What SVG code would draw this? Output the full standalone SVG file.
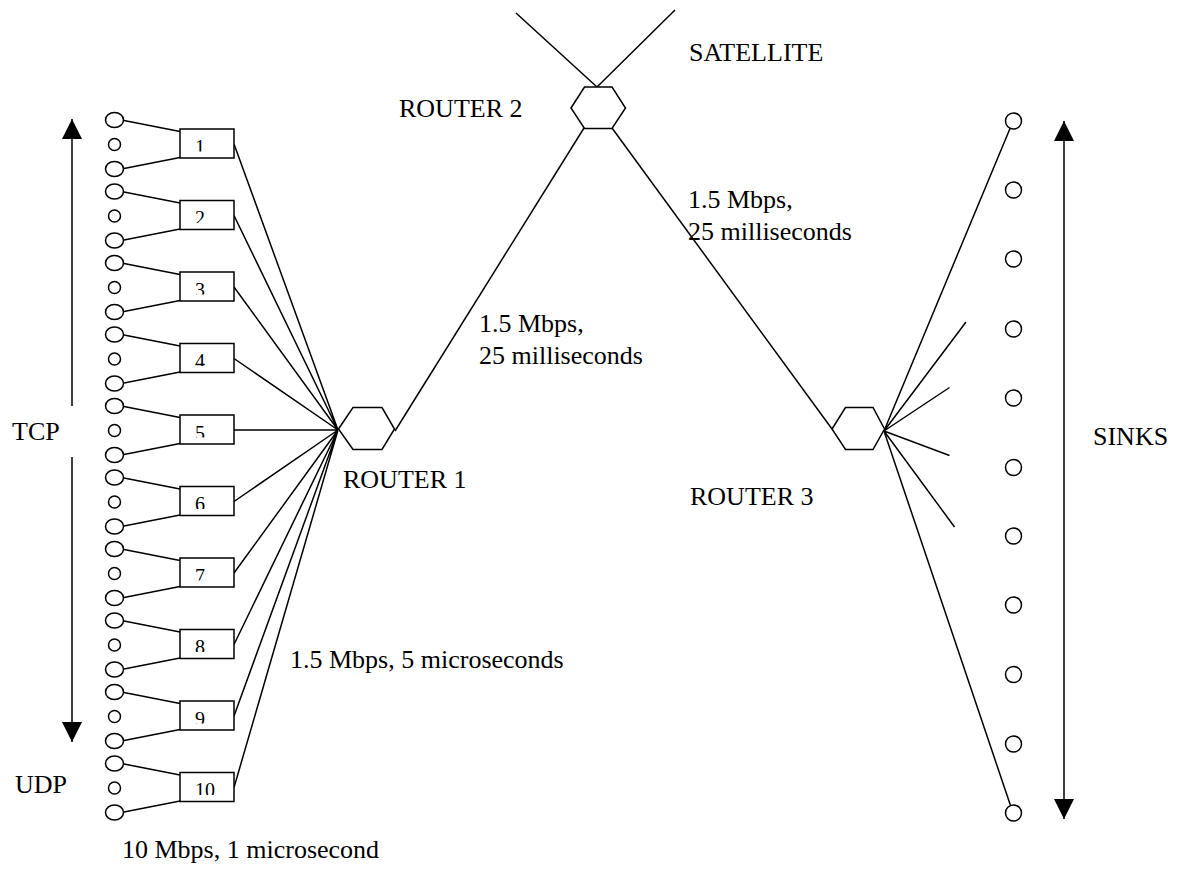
<svg xmlns="http://www.w3.org/2000/svg" width="1186" height="873" viewBox="0 0 1186 873">
<style>
.ln{stroke:#000;stroke-width:1.5;fill:none}
.nd{stroke:#000;stroke-width:1.5;fill:#fff}
.t{font-family:"Liberation Serif","Times New Roman",serif;font-size:26px;fill:#000}
.n{font-family:"Liberation Serif","Times New Roman",serif;font-size:20px;fill:#000}
</style>
<defs>
<marker id="ah" viewBox="0 0 20 20" refX="20" refY="10" markerWidth="20" markerHeight="20" markerUnits="userSpaceOnUse" orient="auto-start-reverse"><path d="M0,0 L20,10 L0,20 z" fill="#000"/></marker>
<clipPath id="c1"><rect x="180" y="129" width="54" height="22.5"/></clipPath>
<clipPath id="c2"><rect x="180" y="200.5" width="54" height="22.5"/></clipPath>
<clipPath id="c3"><rect x="180" y="272" width="54" height="22.5"/></clipPath>
<clipPath id="c4"><rect x="180" y="343.5" width="54" height="22.5"/></clipPath>
<clipPath id="c5"><rect x="180" y="415" width="54" height="22.5"/></clipPath>
<clipPath id="c6"><rect x="180" y="486.5" width="54" height="22.5"/></clipPath>
<clipPath id="c7"><rect x="180" y="558" width="54" height="22.5"/></clipPath>
<clipPath id="c8"><rect x="180" y="629.5" width="54" height="22.5"/></clipPath>
<clipPath id="c9"><rect x="180" y="701" width="54" height="22.5"/></clipPath>
<clipPath id="c10"><rect x="180" y="772.5" width="54" height="22.5"/></clipPath>
</defs>
<rect width="1186" height="873" fill="#fff"/>

<g id="connectors" class="ln">
<path d="M124,120.5L180,131.5M124,168.5L180,157.5
M124,192L180,203M124,240L180,229
M124,263.5L180,274.5M124,311.5L180,300.5
M124,335L180,346M124,383L180,372
M124,406.5L180,417.5M124,454.5L180,443.5
M124,478L180,489M124,526L180,515
M124,549.5L180,560.5M124,597.5L180,586.5
M124,621L180,632M124,669L180,658
M124,692.5L180,703.5M124,740.5L180,729.5
M124,764L180,775M124,812L180,801"/>
<path d="M234,144L338,430M234,215.5L338,430M234,287L338,430M234,358.5L338,430M234,430L338,430M234,501.5L338,430M234,573L338,430M234,644.5L338,430M234,716L338,430M234,787.5L338,430"/>
<path d="M395,431L584,128"/>
<path d="M612,128L832,429"/>
<path d="M516,13L597,87M675,10L597,87"/>
<path d="M884,431L1010,128.5M884,431L966,322M884,431L949.5,387.5M884,431L949.5,455.5M884,431L954.5,527M884,431L1010.5,805.5"/>
<line x1="72" y1="406" x2="72" y2="119" marker-end="url(#ah)"/>
<line x1="72" y1="457" x2="72" y2="742" marker-end="url(#ah)"/>
<line x1="1064" y1="121" x2="1064" y2="819" marker-start="url(#ah)" marker-end="url(#ah)"/>
</g>

<g id="hosts" class="nd">
<ellipse cx="114.5" cy="120" rx="9" ry="7.5"/><circle cx="114.5" cy="144.5" r="6"/><ellipse cx="114.5" cy="169" rx="9" ry="7.5"/>
<ellipse cx="114.5" cy="191.5" rx="9" ry="7.5"/><circle cx="114.5" cy="216" r="6"/><ellipse cx="114.5" cy="240.5" rx="9" ry="7.5"/>
<ellipse cx="114.5" cy="263" rx="9" ry="7.5"/><circle cx="114.5" cy="287.5" r="6"/><ellipse cx="114.5" cy="312" rx="9" ry="7.5"/>
<ellipse cx="114.5" cy="334.5" rx="9" ry="7.5"/><circle cx="114.5" cy="359" r="6"/><ellipse cx="114.5" cy="383.5" rx="9" ry="7.5"/>
<ellipse cx="114.5" cy="406" rx="9" ry="7.5"/><circle cx="114.5" cy="430.5" r="6"/><ellipse cx="114.5" cy="455" rx="9" ry="7.5"/>
<ellipse cx="114.5" cy="477.5" rx="9" ry="7.5"/><circle cx="114.5" cy="502" r="6"/><ellipse cx="114.5" cy="526.5" rx="9" ry="7.5"/>
<ellipse cx="114.5" cy="549" rx="9" ry="7.5"/><circle cx="114.5" cy="573.5" r="6"/><ellipse cx="114.5" cy="598" rx="9" ry="7.5"/>
<ellipse cx="114.5" cy="620.5" rx="9" ry="7.5"/><circle cx="114.5" cy="645" r="6"/><ellipse cx="114.5" cy="669.5" rx="9" ry="7.5"/>
<ellipse cx="114.5" cy="692" rx="9" ry="7.5"/><circle cx="114.5" cy="716.5" r="6"/><ellipse cx="114.5" cy="741" rx="9" ry="7.5"/>
<ellipse cx="114.5" cy="763.5" rx="9" ry="7.5"/><circle cx="114.5" cy="788" r="6"/><ellipse cx="114.5" cy="812.5" rx="9" ry="7.5"/>
</g>

<g id="box1"><rect class="nd" x="180" y="129" width="54" height="29"/><text class="n" x="195" y="153.5" clip-path="url(#c1)">1</text></g>
<g id="box2"><rect class="nd" x="180" y="200.5" width="54" height="29"/><text class="n" x="195" y="225" clip-path="url(#c2)">2</text></g>
<g id="box3"><rect class="nd" x="180" y="272" width="54" height="29"/><text class="n" x="195" y="296.5" clip-path="url(#c3)">3</text></g>
<g id="box4"><rect class="nd" x="180" y="343.5" width="54" height="29"/><text class="n" x="195" y="368" clip-path="url(#c4)">4</text></g>
<g id="box5"><rect class="nd" x="180" y="415" width="54" height="29"/><text class="n" x="195" y="439.5" clip-path="url(#c5)">5</text></g>
<g id="box6"><rect class="nd" x="180" y="486.5" width="54" height="29"/><text class="n" x="195" y="511" clip-path="url(#c6)">6</text></g>
<g id="box7"><rect class="nd" x="180" y="558" width="54" height="29"/><text class="n" x="195" y="582.5" clip-path="url(#c7)">7</text></g>
<g id="box8"><rect class="nd" x="180" y="629.5" width="54" height="29"/><text class="n" x="195" y="654" clip-path="url(#c8)">8</text></g>
<g id="box9"><rect class="nd" x="180" y="701" width="54" height="29"/><text class="n" x="195" y="725.5" clip-path="url(#c9)">9</text></g>
<g id="box10"><rect class="nd" x="180" y="772.5" width="54" height="29"/><text class="n" x="195" y="797" clip-path="url(#c10)">10</text></g>

<g id="router1"><polygon class="nd" points="338.5,429 353,407.5 382,407.5 394.5,429 382,449.5 353,449.5"/><text class="t" x="343" y="488">ROUTER 1</text></g>
<g id="router2"><polygon class="nd" points="571,108 584.5,87 612,87 625.5,108 612,128.5 584.5,128.5"/><text class="t" x="399" y="117">ROUTER 2</text></g>
<g id="router3"><polygon class="nd" points="832,429 845.5,407.5 873,407.5 884.5,429 873,449.5 845.5,449.5"/><text class="t" x="690" y="505">ROUTER 3</text></g>

<g id="sinks" class="nd">
<circle cx="1013.5" cy="121" r="8"/><circle cx="1013.5" cy="190" r="8"/><circle cx="1013.5" cy="259" r="8"/><circle cx="1013.5" cy="329" r="8"/><circle cx="1013.5" cy="398" r="8"/><circle cx="1013.5" cy="467.5" r="8"/><circle cx="1013.5" cy="536" r="8"/><circle cx="1013.5" cy="605" r="8"/><circle cx="1013.5" cy="674.5" r="8"/><circle cx="1013.5" cy="744" r="8"/><circle cx="1013.5" cy="813" r="8"/>
</g>

<g id="labels" class="t">
<text x="689" y="61">SATELLITE</text>
<text x="1093" y="445">SINKS</text>
<text x="12" y="440">TCP</text>
<text x="15" y="793">UDP</text>
<text x="479" y="332">1.5 Mbps,</text>
<text x="479" y="363.5">25 milliseconds</text>
<text x="688" y="208">1.5 Mbps,</text>
<text x="688" y="240">25 milliseconds</text>
<text x="290" y="668">1.5 Mbps, 5 microseconds</text>
<text x="122" y="858">10 Mbps, 1 microsecond</text>
</g>
</svg>
